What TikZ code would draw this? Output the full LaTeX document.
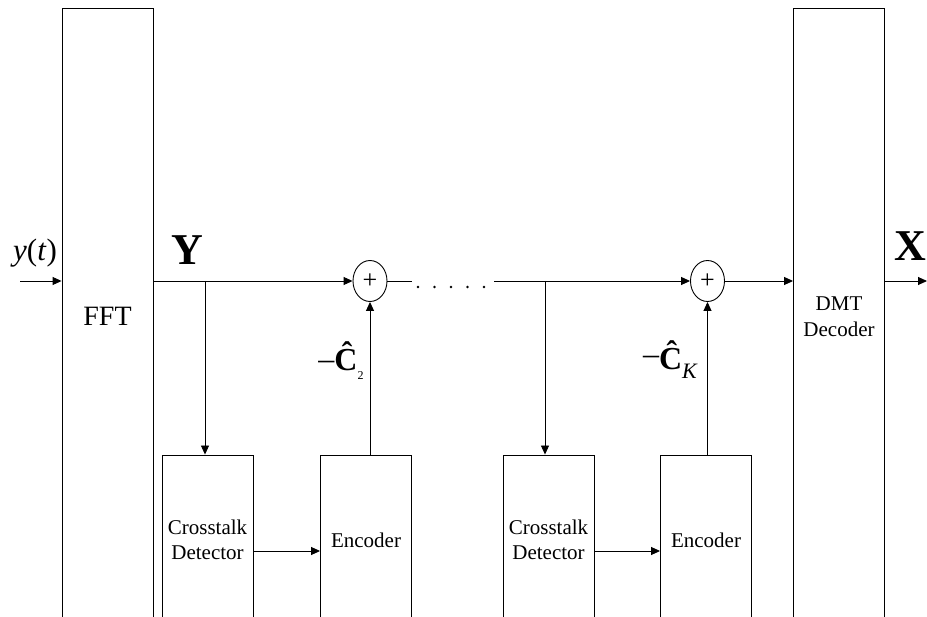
\documentclass[tikz,border=0pt]{standalone}
\usepackage{fontspec}
\setmainfont{Liberation Serif}
\usetikzlibrary{arrows.meta,shapes.geometric}
\begin{document}
\begin{tikzpicture}[x=1pt,y=-1pt,
  line width=0.9pt,
  >={Triangle[length=9pt,width=8pt]},
  tallbox/.style={draw,rectangle,inner sep=0pt,minimum width=91pt,minimum height=617pt},
  lowbox/.style={draw,rectangle,inner sep=0pt,minimum width=91pt,minimum height=170pt,
    align=center,font=\fontsize{21}{25}\selectfont},
  sumnode/.style={draw,ellipse,inner sep=0pt,minimum width=34pt,minimum height=41pt,
    font=\fontsize{26}{26}\selectfont},
  bigbold/.style={font=\fontsize{44}{44}\selectfont\bfseries},
  hatlabel/.style={font=\fontsize{32}{32}\selectfont,inner sep=0pt}
]
\useasboundingbox (0,0) rectangle (927,617);
\clip (0,0) rectangle (927,617);

% transform and decoder blocks
\node[tallbox,font=\fontsize{28}{28}\selectfont] (fft) at (107.5,316.5) {FFT};
\node[tallbox,align=center,font=\fontsize{21}{26}\selectfont] (dmt) at (839,316.5) {DMT\\Decoder};

% cancellation stages
\node[lowbox] (det1) at (207.5,540) {Crosstalk\\Detector};
\node[lowbox] (enc1) at (366,540) {Encoder};
\node[lowbox] (det2) at (548.5,540) {Crosstalk\\Detector};
\node[lowbox] (enc2) at (706,540) {Encoder};

\node[sumnode] (s1) at (370,281) {+};
\node[sumnode] (s2) at (707.5,281) {+};

% signal labels
\node[font=\fontsize{31}{31}\selectfont] (ylab) at (35,253) {\textit{y}(\textit{t})};
\node[bigbold] (Ylab) at (187,250) {Y};
\node[bigbold] (Xlab) at (910,246) {X};
\node[hatlabel] (c2) at (341,361)
  {\raisebox{1pt}{–}\textbf{\^{C}}\raisebox{-9pt}{\fontsize{12}{12}\selectfont 2}};
\node[hatlabel] (cK) at (670,360)
  {\raisebox{5pt}{–}\textbf{\^{C}}\raisebox{-9pt}{\fontsize{22}{22}\selectfont\itshape K}};

% connection points on the main line
\coordinate (in) at (20,281);
\coordinate (br1) at (205,281);
\coordinate (gap1) at (412,281);
\coordinate (gap2) at (494,281);
\coordinate (br2) at (545,281);
\coordinate (out) at (927,281);

% main signal path
\draw[->] (in) -- (in -| fft.west);
\draw[->] (fft.east |- s1) -- (s1.west);
\draw (s1.east) -- (gap1);
\foreach \px in {418,434.5,451,467.5,484} \fill (\px,287) circle (1.3pt);
\draw[->] (gap2) -- (s2.west);
\draw[->] (s2.east) -- (s2 -| dmt.west);
\draw[->] (s2 -| dmt.east) -- (out);

% branches into the detectors
\draw[->] (br1) -- (br1 |- det1.north);
\draw[->] (br2) -- (br2 |- det2.north);
\draw[->] ([yshift=-11pt]det1.east) -- ([yshift=-11pt]enc1.west);
\draw[->] ([yshift=-11pt]det2.east) -- ([yshift=-11pt]enc2.west);

% encoder outputs into the adders
\draw[->] (s1 |- enc1.north) -- (s1.south);
\draw[->] (s2 |- enc2.north) -- (s2.south);
\end{tikzpicture}
\end{document}
